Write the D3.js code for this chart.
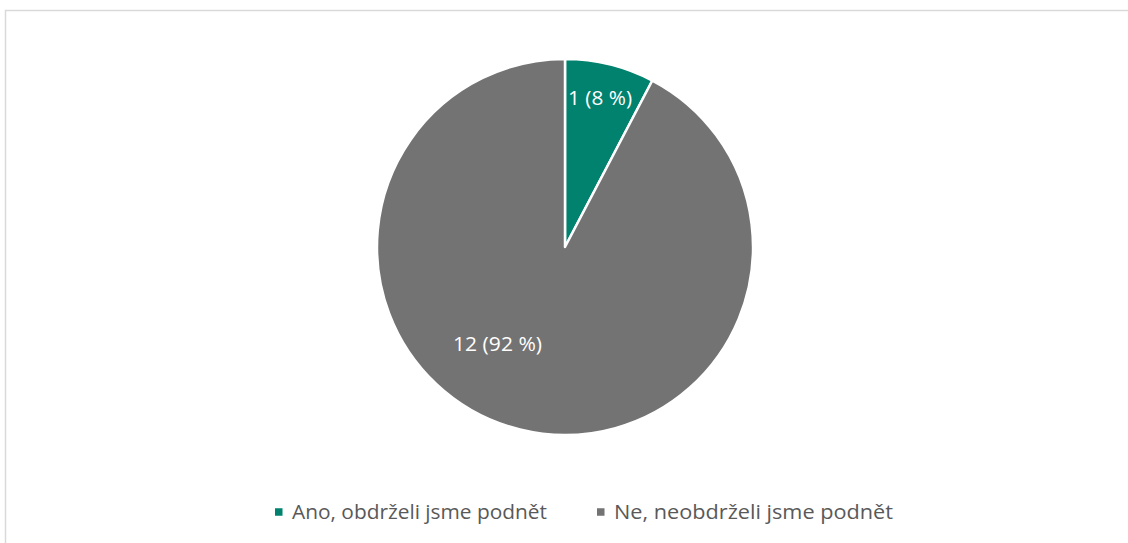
<!DOCTYPE html>
<html><head><meta charset="utf-8">
<script src="https://cdn.jsdelivr.net/npm/d3@7"></script>
<style>html,body{margin:0;padding:0;background:#fff;}svg{display:block;}</style>
</head><body>
<svg id="c" width="1128" height="543"></svg>
<script>
const categories = ["Ano, obdrželi jsme podnět", "Ne, neobdrželi jsme podnět"];
const values = [1, 12];
const labels = ["1 (8 %)", "12 (92 %)"];
const colors = ["#00826F", "#737373"];

const svg = d3.select("#c");
const font = "'Open Sans', sans-serif";
const fs = 20;

// chart frame
svg.append("path").attr("d", "M5.5,543 V10.5 H1128").attr("fill","none").attr("stroke","#d9d9d9").attr("stroke-width",1.5);

const cx = 565, cy = 247, r = 188;
const pie = d3.pie().sort(null).value(d => d);
const arcs = pie(values);
const arc = d3.arc().innerRadius(0).outerRadius(r);
const g = svg.append("g").attr("transform", `translate(${cx},${cy})`);
g.selectAll("path.slice").data(arcs).join("path")
  .attr("class","slice")
  .attr("d", arc)
  .attr("fill", (d,i) => colors[i])
  .attr("stroke", "#fff").attr("stroke-width", 2.5).attr("stroke-linejoin","round");

// best-fit style label placement: fraction across slice angle & radius fraction
const labelPlace = [{t:0.476, f:0.817, w:64}, {t:0.563, f:0.629, w:89}];
g.selectAll("text.lbl").data(arcs).join("text")
  .attr("class","lbl")
  .each(function(d,i){
    const a = d.startAngle + (d.endAngle - d.startAngle) * labelPlace[i].t;
    const rr = r * labelPlace[i].f;
    d3.select(this)
      .attr("x", Math.sin(a)*rr - labelPlace[i].w/2)
      .attr("y", -Math.cos(a)*rr + 0.357*fs)
      .attr("textLength", labelPlace[i].w)
      .attr("lengthAdjust", "spacingAndGlyphs");
  })
  .attr("fill","#fff").attr("font-family", font).attr("font-size", fs)
  .text((d,i) => labels[i]);

// legend
const legendX = d3.scalePoint().domain(categories).range([275, 597]);
const legendW = [255, 279];
const items = svg.append("g").selectAll("g").data(categories).join("g")
  .attr("transform", d => `translate(${legendX(d)},512)`);
items.append("rect").attr("x",0).attr("y",-3.75).attr("width",7.5).attr("height",7.5)
  .attr("fill", (d,i) => colors[i]);
items.append("text").attr("x", 17).attr("y", 0.357*fs)
  .attr("textLength", (d,i) => legendW[i]).attr("lengthAdjust","spacingAndGlyphs")
  .attr("fill","#595959").attr("font-family", font).attr("font-size", fs)
  .text(d => d);
</script>
</body></html>
